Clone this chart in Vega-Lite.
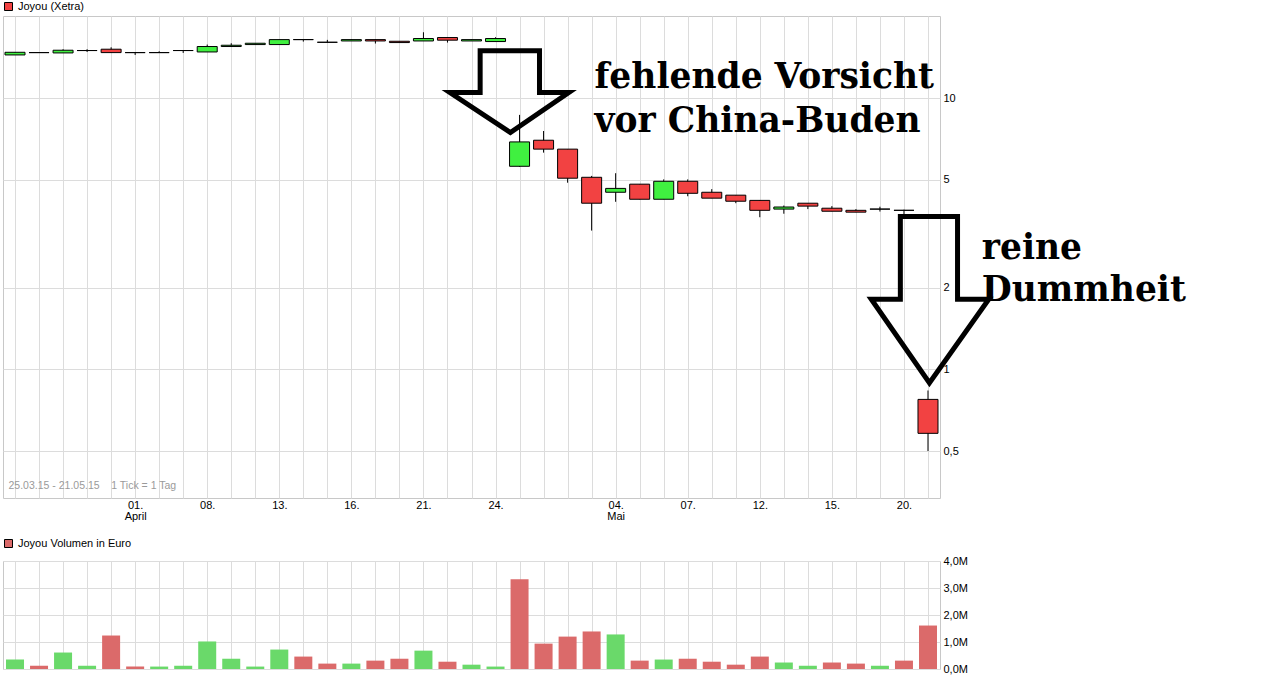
{
  "$schema": "https://vega.github.io/schema/vega-lite/v6.json",
  "padding": {"left": 2, "top": 0, "right": 0, "bottom": 0},
  "background": "white",
  "config": {
    "font": "Liberation Sans",
    "view": {"stroke": "#C8C8C8", "strokeWidth": 1},
    "axis": {"gridColor": "#DCDCDC", "gridWidth": 1, "labelFont": "Liberation Sans", "labelFontSize": 11, "labelColor": "#000", "domain": false, "ticks": false, "title": null},
    "legend": {"orient": "top", "title": null, "symbolType": "square", "symbolSize": 64, "symbolStrokeColor": "#000", "symbolStrokeWidth": 1, "labelFont": "Liberation Sans", "labelFontSize": 11, "labelColor": "#000", "padding": 0, "labelOffset": 4}
  },
  "datasets": {
    "days": [
      {"i": 0, "d": "2015-03-25", "o": 14.44, "h": 14.77, "l": 14.44, "c": 14.77, "dir": "up", "v": 350000, "vdir": "up"},
      {"i": 1, "d": "2015-03-26", "o": 14.73, "h": 14.73, "l": 14.73, "c": 14.73, "dir": "up", "v": 120000, "vdir": "down"},
      {"i": 2, "d": "2015-03-27", "o": 14.69, "h": 15.16, "l": 14.69, "c": 15.03, "dir": "up", "v": 610000, "vdir": "up"},
      {"i": 3, "d": "2015-03-30", "o": 14.99, "h": 15.16, "l": 14.81, "c": 14.99, "dir": "up", "v": 120000, "vdir": "up"},
      {"i": 4, "d": "2015-03-31", "o": 15.16, "h": 15.41, "l": 14.73, "c": 14.73, "dir": "down", "v": 1240000, "vdir": "down"},
      {"i": 5, "d": "2015-04-01", "o": 14.73, "h": 14.73, "l": 14.44, "c": 14.73, "dir": "up", "v": 90000, "vdir": "down"},
      {"i": 6, "d": "2015-04-02", "o": 14.73, "h": 14.9, "l": 14.73, "c": 14.73, "dir": "up", "v": 90000, "vdir": "up"},
      {"i": 7, "d": "2015-04-07", "o": 14.99, "h": 14.99, "l": 14.69, "c": 14.99, "dir": "up", "v": 120000, "vdir": "up"},
      {"i": 8, "d": "2015-04-08", "o": 14.81, "h": 15.77, "l": 14.81, "c": 15.51, "dir": "up", "v": 1020000, "vdir": "up"},
      {"i": 9, "d": "2015-04-09", "o": 15.51, "h": 15.95, "l": 15.51, "c": 15.68, "dir": "up", "v": 380000, "vdir": "up"},
      {"i": 10, "d": "2015-04-10", "o": 15.77, "h": 15.95, "l": 15.77, "c": 15.95, "dir": "up", "v": 90000, "vdir": "up"},
      {"i": 11, "d": "2015-04-13", "o": 15.77, "h": 16.45, "l": 15.77, "c": 16.45, "dir": "up", "v": 720000, "vdir": "up"},
      {"i": 12, "d": "2015-04-14", "o": 16.45, "h": 16.45, "l": 16.17, "c": 16.45, "dir": "down", "v": 460000, "vdir": "down"},
      {"i": 13, "d": "2015-04-15", "o": 16.08, "h": 16.41, "l": 16.08, "c": 16.08, "dir": "down", "v": 200000, "vdir": "down"},
      {"i": 14, "d": "2015-04-16", "o": 16.26, "h": 16.45, "l": 16.26, "c": 16.45, "dir": "up", "v": 200000, "vdir": "up"},
      {"i": 15, "d": "2015-04-17", "o": 16.45, "h": 16.45, "l": 15.91, "c": 16.26, "dir": "down", "v": 310000, "vdir": "down"},
      {"i": 16, "d": "2015-04-20", "o": 16.22, "h": 16.22, "l": 16.04, "c": 16.04, "dir": "down", "v": 380000, "vdir": "down"},
      {"i": 17, "d": "2015-04-21", "o": 16.26, "h": 17.51, "l": 16.26, "c": 16.6, "dir": "up", "v": 680000, "vdir": "up"},
      {"i": 18, "d": "2015-04-22", "o": 16.74, "h": 16.74, "l": 16.04, "c": 16.37, "dir": "down", "v": 270000, "vdir": "down"},
      {"i": 19, "d": "2015-04-23", "o": 16.26, "h": 16.45, "l": 16.26, "c": 16.45, "dir": "up", "v": 160000, "vdir": "up"},
      {"i": 20, "d": "2015-04-24", "o": 16.18, "h": 16.78, "l": 16.18, "c": 16.6, "dir": "up", "v": 90000, "vdir": "up"},
      {"i": 21, "d": "2015-04-27", "o": 5.61, "h": 8.68, "l": 5.58, "c": 6.9, "dir": "up", "v": 3320000, "vdir": "down"},
      {"i": 22, "d": "2015-04-28", "o": 7.0, "h": 7.57, "l": 6.3, "c": 6.49, "dir": "down", "v": 940000, "vdir": "down"},
      {"i": 23, "d": "2015-04-29", "o": 6.49, "h": 6.49, "l": 4.88, "c": 5.07, "dir": "down", "v": 1200000, "vdir": "down"},
      {"i": 24, "d": "2015-04-30", "o": 5.11, "h": 5.17, "l": 3.25, "c": 4.1, "dir": "down", "v": 1390000, "vdir": "down"},
      {"i": 25, "d": "2015-05-04", "o": 4.5, "h": 5.29, "l": 4.15, "c": 4.65, "dir": "up", "v": 1280000, "vdir": "up"},
      {"i": 26, "d": "2015-05-05", "o": 4.82, "h": 4.82, "l": 4.24, "c": 4.24, "dir": "down", "v": 310000, "vdir": "down"},
      {"i": 27, "d": "2015-05-06", "o": 4.24, "h": 5.02, "l": 4.24, "c": 4.94, "dir": "up", "v": 350000, "vdir": "up"},
      {"i": 28, "d": "2015-05-07", "o": 4.94, "h": 5.02, "l": 4.35, "c": 4.46, "dir": "down", "v": 380000, "vdir": "down"},
      {"i": 29, "d": "2015-05-08", "o": 4.5, "h": 4.62, "l": 4.28, "c": 4.28, "dir": "down", "v": 270000, "vdir": "down"},
      {"i": 30, "d": "2015-05-11", "o": 4.39, "h": 4.39, "l": 4.1, "c": 4.17, "dir": "down", "v": 160000, "vdir": "down"},
      {"i": 31, "d": "2015-05-12", "o": 4.2, "h": 4.2, "l": 3.64, "c": 3.86, "dir": "down", "v": 460000, "vdir": "down"},
      {"i": 32, "d": "2015-05-13", "o": 3.9, "h": 4.02, "l": 3.75, "c": 3.97, "dir": "up", "v": 240000, "vdir": "up"},
      {"i": 33, "d": "2015-05-14", "o": 4.1, "h": 4.1, "l": 3.9, "c": 4.0, "dir": "down", "v": 120000, "vdir": "up"},
      {"i": 34, "d": "2015-05-15", "o": 3.93, "h": 4.0, "l": 3.83, "c": 3.83, "dir": "down", "v": 240000, "vdir": "down"},
      {"i": 35, "d": "2015-05-18", "o": 3.86, "h": 3.9, "l": 3.8, "c": 3.8, "dir": "down", "v": 200000, "vdir": "down"},
      {"i": 36, "d": "2015-05-19", "o": 3.9, "h": 3.98, "l": 3.82, "c": 3.9, "dir": "up", "v": 120000, "vdir": "up"},
      {"i": 37, "d": "2015-05-20", "o": 3.86, "h": 3.88, "l": 3.73, "c": 3.86, "dir": "down", "v": 310000, "vdir": "down"},
      {"i": 38, "d": "2015-05-21", "o": 0.775, "h": 0.836, "l": 0.5, "c": 0.581, "dir": "down", "v": 1610000, "vdir": "down"}
    ],
    "arrows": [
      {"a": "A", "k": 0, "x": 19.36, "y": 14.95},
      {"a": "A", "k": 1, "x": 21.83, "y": 14.95},
      {"a": "A", "k": 2, "x": 21.83, "y": 10.49},
      {"a": "A", "k": 3, "x": 23.05, "y": 10.49},
      {"a": "A", "k": 4, "x": 20.62, "y": 7.47},
      {"a": "A", "k": 5, "x": 18.1, "y": 10.49},
      {"a": "A", "k": 6, "x": 19.36, "y": 10.49},
      {"a": "A", "k": 7, "x": 19.36, "y": 14.95},
      {"a": "B", "k": 0, "x": 36.85, "y": 3.66},
      {"a": "B", "k": 1, "x": 39.23, "y": 3.66},
      {"a": "B", "k": 2, "x": 39.23, "y": 1.815},
      {"a": "B", "k": 3, "x": 40.53, "y": 1.815},
      {"a": "B", "k": 4, "x": 38.06, "y": 0.892},
      {"a": "B", "k": 5, "x": 35.64, "y": 1.815},
      {"a": "B", "k": 6, "x": 36.85, "y": 1.815},
      {"a": "B", "k": 7, "x": 36.85, "y": 3.66}
    ],
    "notes": [
      {"t": "fehlende Vorsicht", "x": 24.12, "y": 10.94},
      {"t": "vor China-Buden", "x": 24.12, "y": 7.53},
      {"t": "reine", "x": 40.24, "y": 2.553},
      {"t": "Dummheit", "x": 40.24, "y": 1.788}
    ],
    "info": [
      {"t": "25.03.15 - 21.05.15\u00a0\u00a0\u00a0 1 Tick = 1 Tag", "x": -0.27, "y": 0.371}
    ]
  },
  "vconcat": [
    {
      "width": 937,
      "height": 482,
      "resolve": {"axis": {"x": "independent"}},
      "layer": [
        {
          "data": {"name": "days"},
          "mark": {"type": "rule", "color": "black", "strokeWidth": 1},
          "encoding": {
            "x": {"field": "i", "type": "quantitative", "scale": {"domain": [-0.5, 38.5], "nice": false, "zero": false, "padding": 0},
              "axis": {"orient": "bottom", "values": [0,1,2,3,4,5,6,7,8,9,10,11,12,13,14,15,16,17,18,19,20,21,22,23,24,25,26,27,28,29,30,31,32,33,34,35,36,37,38], "grid": true, "labels": false}},
            "y": {"field": "l", "type": "quantitative", "scale": {"type": "log", "domain": [0.3355, 20.1], "nice": false},
              "axis": {"orient": "right", "values": [0.5, 1, 2, 5, 10], "grid": true, "labelPadding": 3, "labelExpr": "datum.value == 0.5 ? '0,5' : '' + datum.value"}},
            "y2": {"field": "h"}
          }
        },
        {
          "data": {"name": "days"},
          "mark": {"type": "bar", "width": 20, "stroke": "black", "strokeWidth": 1},
          "encoding": {
            "x": {"field": "i", "type": "quantitative",
              "axis": {"orient": "bottom", "values": [5, 8, 11, 14, 17, 20, 25, 28, 31, 34, 37], "grid": false, "labelOverlap": false, "labelPadding": 1, "labelLineHeight": 11, "labelBaseline": "top", "labelFlush": false,
                "labelExpr": "datum.value == 5 ? ['01.', 'April'] : datum.value == 8 ? '08.' : datum.value == 11 ? '13.' : datum.value == 14 ? '16.' : datum.value == 17 ? '21.' : datum.value == 20 ? '24.' : datum.value == 25 ? ['04.', 'Mai'] : datum.value == 28 ? '07.' : datum.value == 31 ? '12.' : datum.value == 34 ? '15.' : '20.'"}},
            "y": {"field": "o", "type": "quantitative"},
            "y2": {"field": "c"},
            "fill": {"field": "dir", "type": "nominal", "scale": {"domain": ["up", "down"], "range": ["#40F040", "#F24242"]},
              "legend": {"values": ["down"], "labelExpr": "'Joyou (Xetra)'", "offset": 3}}
          }
        },
        {
          "data": {"name": "info"},
          "mark": {"type": "text", "fontSize": 10.5, "color": "#9A9A9A", "align": "left", "baseline": "middle"},
          "encoding": {
            "x": {"field": "x", "type": "quantitative", "axis": null},
            "y": {"field": "y", "type": "quantitative"},
            "text": {"field": "t"}
          }
        },
        {
          "data": {"name": "arrows"},
          "mark": {"type": "line", "color": "black", "strokeWidth": 5, "strokeJoin": "miter", "strokeCap": "square"},
          "encoding": {
            "x": {"field": "x", "type": "quantitative", "axis": null},
            "y": {"field": "y", "type": "quantitative"},
            "detail": {"field": "a"},
            "order": {"field": "k"}
          }
        },
        {
          "data": {"name": "notes"},
          "mark": {"type": "text", "font": "DejaVu Serif", "fontWeight": "bold", "fontSize": 34.5, "align": "left", "baseline": "alphabetic", "color": "black"},
          "encoding": {
            "x": {"field": "x", "type": "quantitative", "axis": null},
            "y": {"field": "y", "type": "quantitative"},
            "text": {"field": "t"}
          }
        }
      ]
    },
    {
      "width": 937,
      "height": 108,
      "data": {"name": "days"},
      "mark": {"type": "bar", "width": 18},
      "encoding": {
        "x": {"field": "i", "type": "quantitative", "scale": {"domain": [-0.5, 38.5], "nice": false, "zero": false, "padding": 0},
          "axis": {"values": [0,1,2,3,4,5,6,7,8,9,10,11,12,13,14,15,16,17,18,19,20,21,22,23,24,25,26,27,28,29,30,31,32,33,34,35,36,37,38], "grid": true, "labels": false}},
        "y": {"field": "v", "type": "quantitative", "scale": {"domain": [0, 4000000], "nice": false},
          "axis": {"orient": "right", "values": [0, 1000000, 2000000, 3000000, 4000000], "grid": true, "labelPadding": 3, "labelExpr": "replace(format(datum.value / 1000000, '.1f'), '.', ',') + 'M'"}},
        "fill": {"field": "vdir", "type": "nominal", "scale": {"domain": ["up", "down"], "range": ["#6AD96A", "#DB6A6A"]},
          "legend": {"values": ["down"], "labelExpr": "'Joyou Volumen in Euro'", "offset": 11}}
      }
    }
  ],
  "spacing": 15,
  "resolve": {"scale": {"fill": "independent", "x": "independent", "y": "independent"}, "legend": {"fill": "independent"}}
}
